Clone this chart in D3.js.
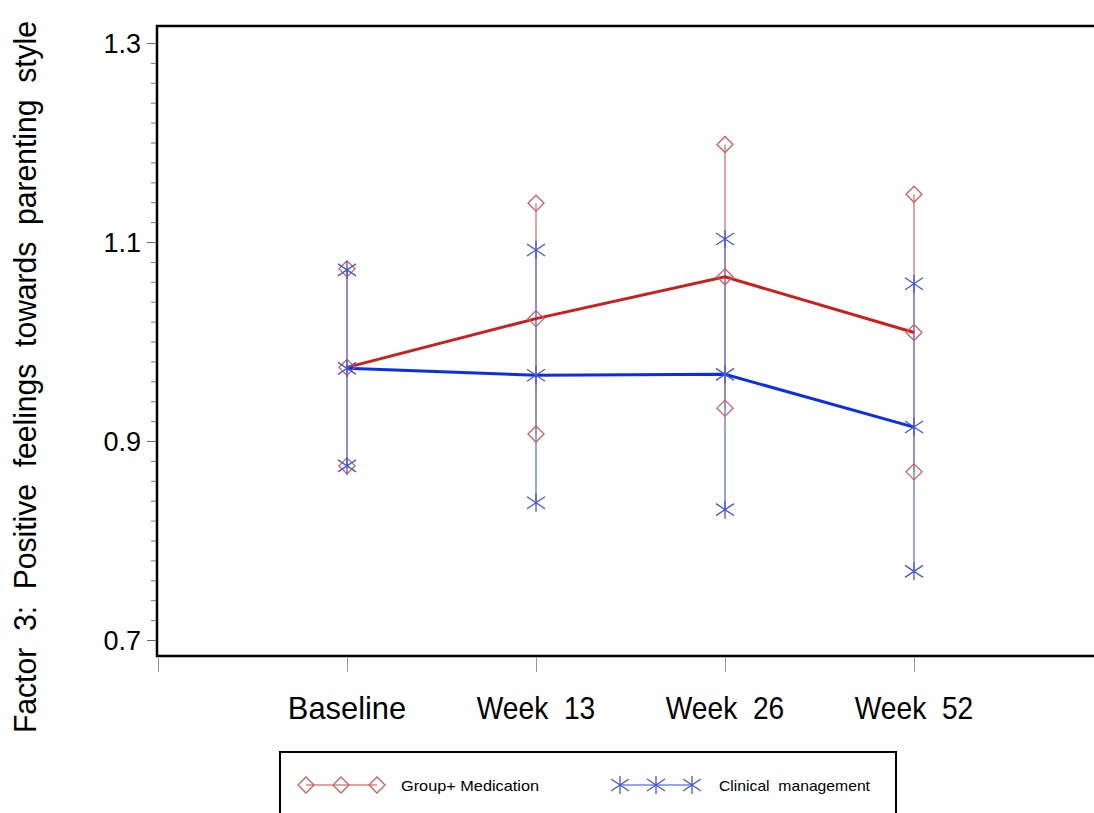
<!DOCTYPE html>
<html><head><meta charset="utf-8">
<script src="https://cdn.jsdelivr.net/npm/d3@7"></script>
<style>
html,body{margin:0;padding:0;background:#fff;overflow:hidden}
text{font-family:"Liberation Sans",Arial,Helvetica,sans-serif;white-space:pre}
</style></head>
<body>
<svg id="chart" width="1094" height="813"></svg>
<script>
// ---- data ----
const categories = ["Baseline", "Week  13", "Week  26", "Week  52"];
const groupMean  = [0.974, 1.023, 1.065, 1.009];
const groupLower = [0.875, 0.907, 0.933, 0.869];
const groupUpper = [1.073, 1.139, 1.198, 1.148];
const clinMean   = [0.973, 0.966, 0.967, 0.914];
const clinLower  = [0.875, 0.838, 0.831, 0.769];
const clinUpper  = [1.072, 1.092, 1.103, 1.058];
const yTicks = [0.7, 0.9, 1.1, 1.3];
const seriesNames = ["Group+ Medication", "Clinical  management"];
const yTitle = "Factor  3:  Positive  feelings  towards  parenting  style";

const svg = d3.select("#chart");
const frame = {left: 157, top: 26, bottom: 656, right: 1120};
const y = d3.scaleLinear().domain([0.7, 1.3]).range([640, 43]);
const x = d3.scaleLinear().domain([0, 5]).range([158, 1103]);

// frame
svg.append("rect").attr("x", frame.left).attr("y", frame.top)
  .attr("width", frame.right - frame.left).attr("height", frame.bottom - frame.top)
  .attr("fill", "none").attr("stroke", "#000").attr("stroke-width", 2.5);

// y minor ticks
const minor = d3.range(0, 31).map(i => 0.7 + i * 0.02);
const yMinor = svg.append("g").attr("transform", `translate(${frame.left - 1},0)`)
  .call(d3.axisLeft(y).tickValues(minor).tickSize(5).tickFormat(""));
yMinor.select(".domain").remove();
yMinor.selectAll("line").attr("stroke", "#777").attr("stroke-width", 1);

// y major
const yAx = svg.append("g").attr("transform", `translate(${frame.left - 1},0)`)
  .call(d3.axisLeft(y).tickValues(yTicks).tickSize(9).tickPadding(6).tickFormat(d3.format(".1f")));
yAx.select(".domain").remove();
yAx.selectAll("line").attr("stroke", "#666").attr("stroke-width", 1);
yAx.selectAll("text").attr("font-size", 27).attr("fill", "#000")
  .attr("font-family", "Liberation Sans, Arial, sans-serif").attr("dy", "0.36em");

// x axis ticks
const xAx = svg.append("g").attr("transform", `translate(0,${frame.bottom + 1})`)
  .call(d3.axisBottom(x).tickValues([0, 1, 2, 3, 4]).tickSize(15).tickFormat(""));
xAx.select(".domain").remove();
xAx.selectAll("line").attr("stroke", "#999").attr("stroke-width", 1);

// x labels
svg.append("g").selectAll("text").data(categories).join("text")
  .attr("x", (d, i) => x(i + 1)).attr("y", 719)
  .attr("text-anchor", "middle").attr("font-size", 32)
  .attr("textLength", d => d.length * 14.8).attr("lengthAdjust", "spacingAndGlyphs")
  .text(d => d);

// y title
svg.append("text")
  .attr("transform", "translate(36,377) rotate(-90) scale(0.94,1)")
  .attr("text-anchor", "middle").attr("font-size", 32)
  .text(yTitle);

const redBar = "#d88484", blueBar = "#7b86e2";
const redLine = "#cc1e1e", blueLine = "#0b2ee6";
const redMark = "#c85f5f", blueMark = "#4656d8";

const idx = d3.range(categories.length);

// error bars
svg.append("g").selectAll("line").data(idx).join("line")
  .attr("x1", i => x(i + 1)).attr("x2", i => x(i + 1))
  .attr("y1", i => y(groupLower[i])).attr("y2", i => y(groupUpper[i]))
  .attr("stroke", redBar).attr("stroke-width", 1.5);
svg.append("g").selectAll("line").data(idx).join("line")
  .attr("x1", i => x(i + 1)).attr("x2", i => x(i + 1))
  .attr("y1", i => y(clinLower[i])).attr("y2", i => y(clinUpper[i]))
  .attr("stroke", blueBar).attr("stroke-width", 1.5);

// mean lines
const lineGen = arr => d3.line().x((d, i) => x(i + 1)).y(d => y(d))(arr);
svg.append("path").attr("d", lineGen(groupMean)).attr("fill", "none")
  .attr("stroke", redLine).attr("stroke-width", 3);
svg.append("path").attr("d", lineGen(clinMean)).attr("fill", "none")
  .attr("stroke", blueLine).attr("stroke-width", 3);

// markers
const diamondPath = "M0,-8L8,0L0,8L-8,0Z";
const starPath = "M-9,-6L9,6M-9,6L9,-6M0,-9L0,9";
function diamonds(g, pts) {
  g.selectAll("path.d").data(pts).join("path").attr("class", "d")
    .attr("transform", p => `translate(${p[0]},${p[1]})`)
    .attr("d", diamondPath).attr("fill", "none").attr("stroke", redMark).attr("stroke-width", 1.3);
}
function stars(g, pts) {
  g.selectAll("path.s").data(pts).join("path").attr("class", "s")
    .attr("transform", p => `translate(${p[0]},${p[1]})`)
    .attr("d", starPath).attr("fill", "none").attr("stroke", blueMark).attr("stroke-width", 1.3);
}
const gPts = [], cPts = [];
idx.forEach(i => {
  [groupLower[i], groupMean[i], groupUpper[i]].forEach(v => gPts.push([x(i + 1), y(v)]));
  [clinLower[i], clinMean[i], clinUpper[i]].forEach(v => cPts.push([x(i + 1), y(v)]));
});
diamonds(svg.append("g"), gPts);
stars(svg.append("g"), cPts);

// legend
svg.append("rect").attr("x", 280).attr("y", 752).attr("width", 616).attr("height", 120)
  .attr("fill", "none").attr("stroke", "#000").attr("stroke-width", 2);
const ly = 785;
const lgR = [306, 341, 377], lgB = [620, 656, 692];
svg.append("line").attr("x1", lgR[0]).attr("x2", lgR[2]).attr("y1", ly).attr("y2", ly)
  .attr("stroke", redBar).attr("stroke-width", 1.3);
diamonds(svg.append("g"), lgR.map(v => [v, ly]));
svg.append("line").attr("x1", lgB[0]).attr("x2", lgB[2]).attr("y1", ly).attr("y2", ly)
  .attr("stroke", blueBar).attr("stroke-width", 1.3);
stars(svg.append("g"), lgB.map(v => [v, ly]));
svg.append("text").attr("x", 401).attr("y", 791).attr("font-size", 15)
  .attr("textLength", 138).attr("lengthAdjust", "spacingAndGlyphs").text(seriesNames[0]);
svg.append("text").attr("x", 719).attr("y", 791).attr("font-size", 15)
  .attr("textLength", 151).attr("lengthAdjust", "spacingAndGlyphs").text(seriesNames[1]);
</script>
</body></html>
